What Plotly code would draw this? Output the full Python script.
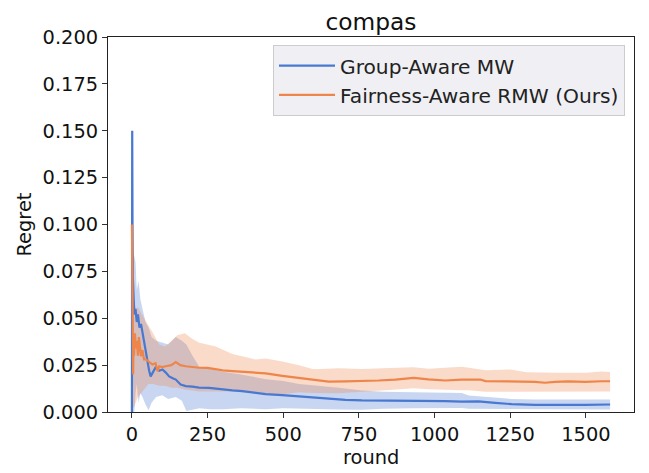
import plotly.graph_objects as go

# ---------------- data ----------------
gmw_rounds = [0, 1, 2, 3, 5, 8, 12, 16, 20, 25, 30, 35, 42, 51, 57, 62, 68, 79, 90, 101,
              112, 123, 135, 145, 161, 178, 200, 222, 255, 290, 332, 365, 400, 442, 497,
              552, 607, 650, 706, 760, 815, 870, 925, 980, 1035, 1090, 1145, 1200, 1255,
              1332, 1442, 1497, 1580]
gmw_regret = [0.0, 0.15, 0.10, 0.072, 0.06, 0.052, 0.055, 0.048, 0.052, 0.045, 0.047, 0.042,
              0.036, 0.028, 0.022, 0.019, 0.021, 0.024, 0.022, 0.0227, 0.021, 0.019, 0.018,
              0.0173, 0.0147, 0.0138, 0.0135, 0.013, 0.0129, 0.0122, 0.0115, 0.0111, 0.0105,
              0.0095, 0.0090, 0.0083, 0.0078, 0.0072, 0.0065, 0.0062, 0.0061, 0.0063, 0.0061,
              0.0060, 0.0058, 0.0055, 0.0057, 0.0049, 0.0042, 0.0038, 0.0037, 0.0038, 0.0040]

frmw_rounds = [0, 1, 2, 3, 4, 5, 7, 10, 13, 16, 20, 23, 27, 30, 35, 40, 47, 55, 68, 78, 85,
               90, 100, 112, 130, 145, 160, 178, 200, 222, 250, 277, 300, 332, 387, 442, 497,
               552, 607, 650, 706, 760, 815, 870, 931, 980, 1035, 1090, 1151, 1168, 1222,
               1277, 1332, 1365, 1398, 1442, 1497, 1552, 1580]
frmw_regret = [0.10, 0.06, 0.04, 0.025, 0.02, 0.035, 0.03, 0.042, 0.034, 0.038, 0.03, 0.04,
               0.032, 0.0298, 0.033, 0.028, 0.028, 0.027, 0.0253, 0.026, 0.0218, 0.0244, 0.024,
               0.0244, 0.025, 0.0266, 0.025, 0.0244, 0.024, 0.0236, 0.0235, 0.0227, 0.0222,
               0.0218, 0.021, 0.0206, 0.0193, 0.0182, 0.0168, 0.0162, 0.0163, 0.0164, 0.0168,
               0.0173, 0.0182, 0.0174, 0.0168, 0.0173, 0.0173, 0.0165, 0.0163, 0.0164, 0.0161,
               0.0156, 0.0161, 0.0163, 0.0161, 0.0164, 0.0164]

gmw_band_rounds = [0, 1, 3, 8, 12, 16, 22, 28, 35, 45, 55, 65, 80, 100, 120, 145, 165, 180,
                   200, 223, 260, 300, 360, 442, 500, 552, 620, 683, 760, 830, 930, 1000,
                   1090, 1113, 1170, 1250, 1330, 1450, 1580]
gmw_lower = [0.0, 0.0, 0.0, 0.0, 0.010, 0.015, 0.005, 0.010, 0.008, 0.004, 0.001, 0.005,
             0.008, 0.009, 0.007, 0.008, 0.006, 0.0005, 0.001, 0.002, 0.0015, 0.0015, 0.002,
             0.0015, 0.002, 0.0015, 0.0015, 0.0013, 0.0012, 0.0018, 0.002, 0.0022, 0.0021,
             0.0017, 0.0015, 0.0013, 0.0013, 0.0013, 0.0013]
gmw_upper = [0.15, 0.15, 0.085, 0.083, 0.080, 0.065, 0.070, 0.060, 0.055, 0.048, 0.045, 0.040,
             0.038, 0.037, 0.036, 0.040, 0.038, 0.036, 0.030, 0.024, 0.023, 0.0215, 0.020,
             0.0175, 0.0165, 0.015, 0.014, 0.013, 0.0115, 0.0108, 0.0105, 0.0104, 0.0102,
             0.0088, 0.0081, 0.0070, 0.0067, 0.0067, 0.0067]

frmw_band_rounds = [0, 1, 3, 6, 10, 15, 20, 30, 40, 55, 70, 90, 110, 130, 150, 175, 200, 223,
                    277, 332, 409, 442, 497, 552, 600, 683, 760, 850, 931, 980, 1090, 1113,
                    1168, 1250, 1304, 1400, 1500, 1552, 1580]
frmw_lower = [0.10, 0.02, 0.003, 0.002, 0.004, 0.006, 0.008, 0.010, 0.012, 0.015, 0.015,
              0.014, 0.014, 0.013, 0.013, 0.012, 0.0115, 0.011, 0.011, 0.011, 0.010, 0.0093,
              0.0095, 0.0105, 0.0102, 0.0100, 0.0108, 0.0118, 0.0127, 0.0122, 0.0116, 0.0116,
              0.0108, 0.0106, 0.0106, 0.0108, 0.0110, 0.0110, 0.0110]
frmw_upper = [0.10, 0.080, 0.060, 0.058, 0.057, 0.055, 0.056, 0.053, 0.050, 0.046, 0.042,
              0.036, 0.035, 0.038, 0.041, 0.042, 0.039, 0.037, 0.035, 0.031, 0.028, 0.0285,
              0.027, 0.025, 0.0228, 0.0234, 0.023, 0.0235, 0.0239, 0.0231, 0.0241, 0.0236,
              0.0223, 0.0227, 0.0212, 0.0209, 0.0209, 0.0216, 0.0214]

y_ticks = [0.0, 0.025, 0.05, 0.075, 0.1, 0.125, 0.15, 0.175, 0.2]
x_ticks = [0, 250, 500, 750, 1000, 1250, 1500]

BLUE = "#4878d0"
ORANGE = "#ee854a"
FONT = "DejaVu Sans"
FS = 19.4

# page has an 8px body margin; figure offset accordingly
W, H = 633, 465
ML, MR, MT, MB = 100, 7, 29, 61
PW, PH = W - ML - MR, H - MT - MB

fig = go.Figure()


def band(rounds, lower, upper, rgba):
    fig.add_trace(go.Scatter(
        x=list(rounds) + list(rounds)[::-1],
        y=list(upper) + list(lower)[::-1],
        fill="toself", fillcolor=rgba, line=dict(width=0),
        mode="lines", hoverinfo="skip", showlegend=False))


band(gmw_band_rounds, gmw_lower, gmw_upper, "rgba(72,120,208,0.3)")
band(frmw_band_rounds, frmw_lower, frmw_upper, "rgba(238,133,74,0.3)")

fig.add_trace(go.Scatter(x=gmw_rounds, y=gmw_regret, mode="lines",
                         line=dict(color=BLUE, width=2.2), name="Group-Aware MW"))
fig.add_trace(go.Scatter(x=frmw_rounds, y=frmw_regret, mode="lines",
                         line=dict(color=ORANGE, width=2.2),
                         name="Fairness-Aware RMW (Ours)"))

axis_common = dict(showgrid=False, zeroline=False, showline=True, linecolor="#222",
                   linewidth=1, mirror=True, ticks="outside", ticklen=5, tickwidth=1,
                   tickcolor="#333", automargin=False,
                   tickfont=dict(family=FONT, size=FS, color="#111"))

fig.update_layout(
    width=W, height=H,
    margin=dict(l=ML, r=MR, t=MT, b=MB, autoexpand=False),
    paper_bgcolor="white", plot_bgcolor="white",
    font=dict(family=FONT, size=FS, color="#111"),
    title=dict(text="compas", x=0.5, xref="paper", xanchor="center",
               y=1 - 14 / H, yanchor="middle", automargin=False,
               font=dict(family=FONT, size=23.3)),
    xaxis=dict(range=[-79, 1659], tickvals=x_ticks, **axis_common),
    yaxis=dict(range=[0, 0.2], tickvals=y_ticks, tickformat=".3f", **axis_common),
    legend=dict(x=1 - 9 / PW, y=1 - 8 / PH, xanchor="right", yanchor="top",
                bgcolor="rgba(239,239,243,0.95)", bordercolor="#cccccc", borderwidth=1,
                itemwidth=56,
                font=dict(family=FONT, size=20.2, color="#222"), tracegroupgap=0),
    showlegend=True,
    annotations=[
        dict(text="round", xref="paper", yref="paper", x=0.5, y=-(449 - (MT + PH)) / PH,
             xanchor="center", yanchor="middle", showarrow=False,
             font=dict(family=FONT, size=FS, color="#111")),
        dict(text="Regret", xref="paper", yref="paper", x=(16 - ML) / PW, y=0.5,
             xanchor="center", yanchor="middle", textangle=-90, showarrow=False,
             font=dict(family=FONT, size=FS, color="#111")),
    ],
)

fig.write_html("out.html")
